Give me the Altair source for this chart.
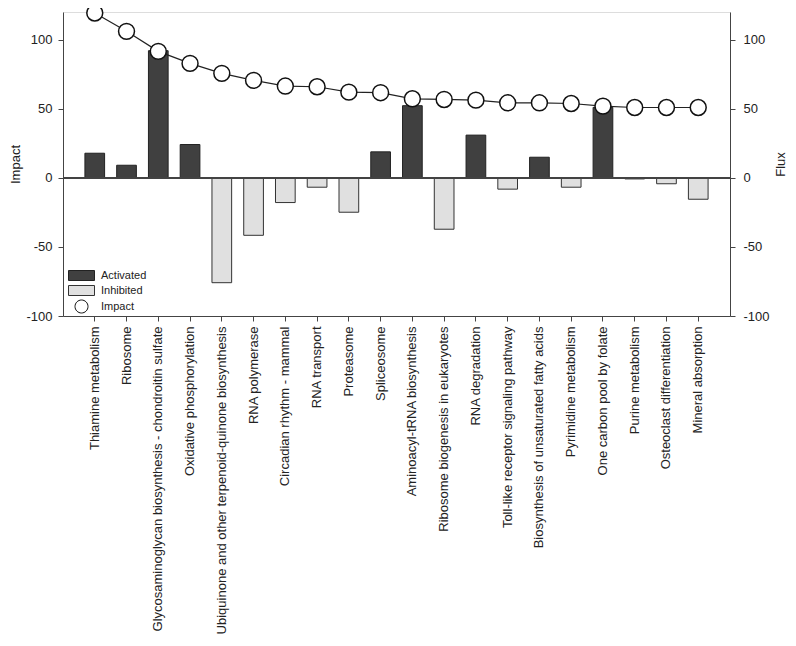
import altair as alt
import pandas as pd

pathways = [
    "Thiamine metabolism",
    "Ribosome",
    "Glycosaminoglycan biosynthesis - chondroitin sulfate",
    "Oxidative phosphorylation",
    "Ubiquinone and other terpenoid-quinone biosynthesis",
    "RNA polymerase",
    "Circadian rhythm - mammal",
    "RNA transport",
    "Proteasome",
    "Spliceosome",
    "Aminoacyl-tRNA biosynthesis",
    "Ribosome biogenesis in eukaryotes",
    "RNA degradation",
    "Toll-like receptor signaling pathway",
    "Biosynthesis of unsaturated fatty acids",
    "Pyrimidine metabolism",
    "One carbon pool by folate",
    "Purine metabolism",
    "Osteoclast differentiation",
    "Mineral absorption",
]
flux = [17.8, 9.1, 92.0, 24.1, -75.9, -41.6, -17.9, -6.8, -24.9, 18.8,
        52.2, -37.2, 30.9, -8.2, 14.9, -6.8, 51.0, -0.8, -4.3, -15.5]
impact = [119.3, 106.0, 91.5, 82.8, 75.6, 70.5, 66.4, 65.9, 62.0, 61.6,
          57.2, 56.7, 56.2, 54.3, 54.3, 53.8, 51.9, 50.9, 50.9, 50.9]
status = ["Activated", "Activated", "Activated", "Activated", "Inhibited",
          "Inhibited", "Inhibited", "Inhibited", "Inhibited", "Activated",
          "Activated", "Inhibited", "Activated", "Inhibited", "Activated",
          "Inhibited", "Activated", "Inhibited", "Inhibited", "Inhibited"]
kinds = ["Activated", "Inhibited", "Impact"]

df = pd.DataFrame({"pathway": pathways, "flux": flux, "impact": impact,
                   "kind": status})
df_imp = pd.DataFrame({"pathway": pathways, "impact": impact,
                       "kind": ["Impact"] * len(pathways)})

FONT = "Liberation Sans"
rect_path = "M-2.6,-1H2.6V1H-2.6Z"
circ_path = "M1.3,0A1.3,1.3 0 1,1 -1.3,0A1.3,1.3 0 1,1 1.3,0Z"

fill_scale = alt.Scale(domain=kinds, range=["#404040", "#e0e0e0", "#ffffff"])
shape_scale = alt.Scale(domain=kinds, range=[rect_path, rect_path, circ_path])
stroke_scale = alt.Scale(domain=kinds, range=["#222222", "#333333", "#111111"])

leg = alt.Legend(title=None, orient="none", legendX=13, legendY=258,
                 symbolSize=100, labelFontSize=11, labelFont=FONT,
                 labelColor="#222", rowPadding=0, symbolStrokeWidth=1,
                 labelOffset=14, symbolOpacity=1)

x_enc = alt.X("pathway:N", sort=pathways,
              scale=alt.Scale(paddingInner=0.38, paddingOuter=0.69),
              axis=alt.Axis(title=None, labelAngle=-90, labelFontSize=13,
                            labelColor="#222", labelFont=FONT, tickSize=5,
                            labelPadding=5, domainColor="#444",
                            tickColor="#444", labelLimit=400))

yscale = alt.Scale(domain=[-100, 120], nice=False, zero=False)
ticks = [-100, -50, 0, 50, 100]

bars = alt.Chart(df).mark_bar(strokeWidth=1).encode(
    x=x_enc,
    y=alt.Y("flux:Q", scale=yscale,
            axis=alt.Axis(orient="right", title="Flux", values=ticks,
                          labelExpr="toString(datum.value)", grid=False,
                          labelFontSize=13, labelFont=FONT, labelColor="#222",
                          titleFont=FONT, titleFontSize=13, titleFontWeight="normal",
                          titleColor="#222", titleAngle=270, titlePadding=18,
                          tickSize=5, labelPadding=8, domainColor="#444",
                          tickColor="#444")),
    fill=alt.Fill("kind:N", scale=fill_scale, legend=leg),
    stroke=alt.Stroke("kind:N", scale=stroke_scale, legend=leg),
)

zero = alt.Chart(df).mark_rule(color="#444", strokeWidth=1).encode(
    y=alt.datum(0, scale=yscale)
)

line = alt.Chart(df_imp).mark_line(color="#222", strokeWidth=1.2).encode(
    x=alt.X("pathway:N", sort=pathways),
    y=alt.Y("impact:Q", scale=yscale,
            axis=alt.Axis(orient="left", title="Impact", values=ticks,
                          labelExpr="toString(datum.value)", grid=False,
                          labelFontSize=13, labelFont=FONT, labelColor="#222",
                          titleFont=FONT, titleFontSize=13, titleFontWeight="normal",
                          titleColor="#222", titlePadding=3,
                          tickSize=5, labelPadding=6, domainColor="#444",
                          tickColor="#444")),
)

points = alt.Chart(df_imp).mark_point(filled=True, strokeWidth=1.5,
                                      size=150, opacity=1).encode(
    x=alt.X("pathway:N", sort=pathways),
    y=alt.Y("impact:Q", scale=yscale),
    fill=alt.Fill("kind:N", scale=fill_scale, legend=leg),
    shape=alt.Shape("kind:N", scale=shape_scale, legend=leg),
    stroke=alt.Stroke("kind:N", scale=stroke_scale, legend=leg),
)

chart = alt.layer(
    alt.layer(bars, zero),
    alt.layer(line, points),
).resolve_scale(y="independent").properties(
    width=667, height=304,
    autosize=alt.AutoSizeParams(type="none"),
    padding={"left": 55, "top": 4, "right": 58, "bottom": 322},
).configure_view(stroke=None).configure(font=FONT)

chart.save("out.html", embed_options={"renderer": "svg", "actions": False})
